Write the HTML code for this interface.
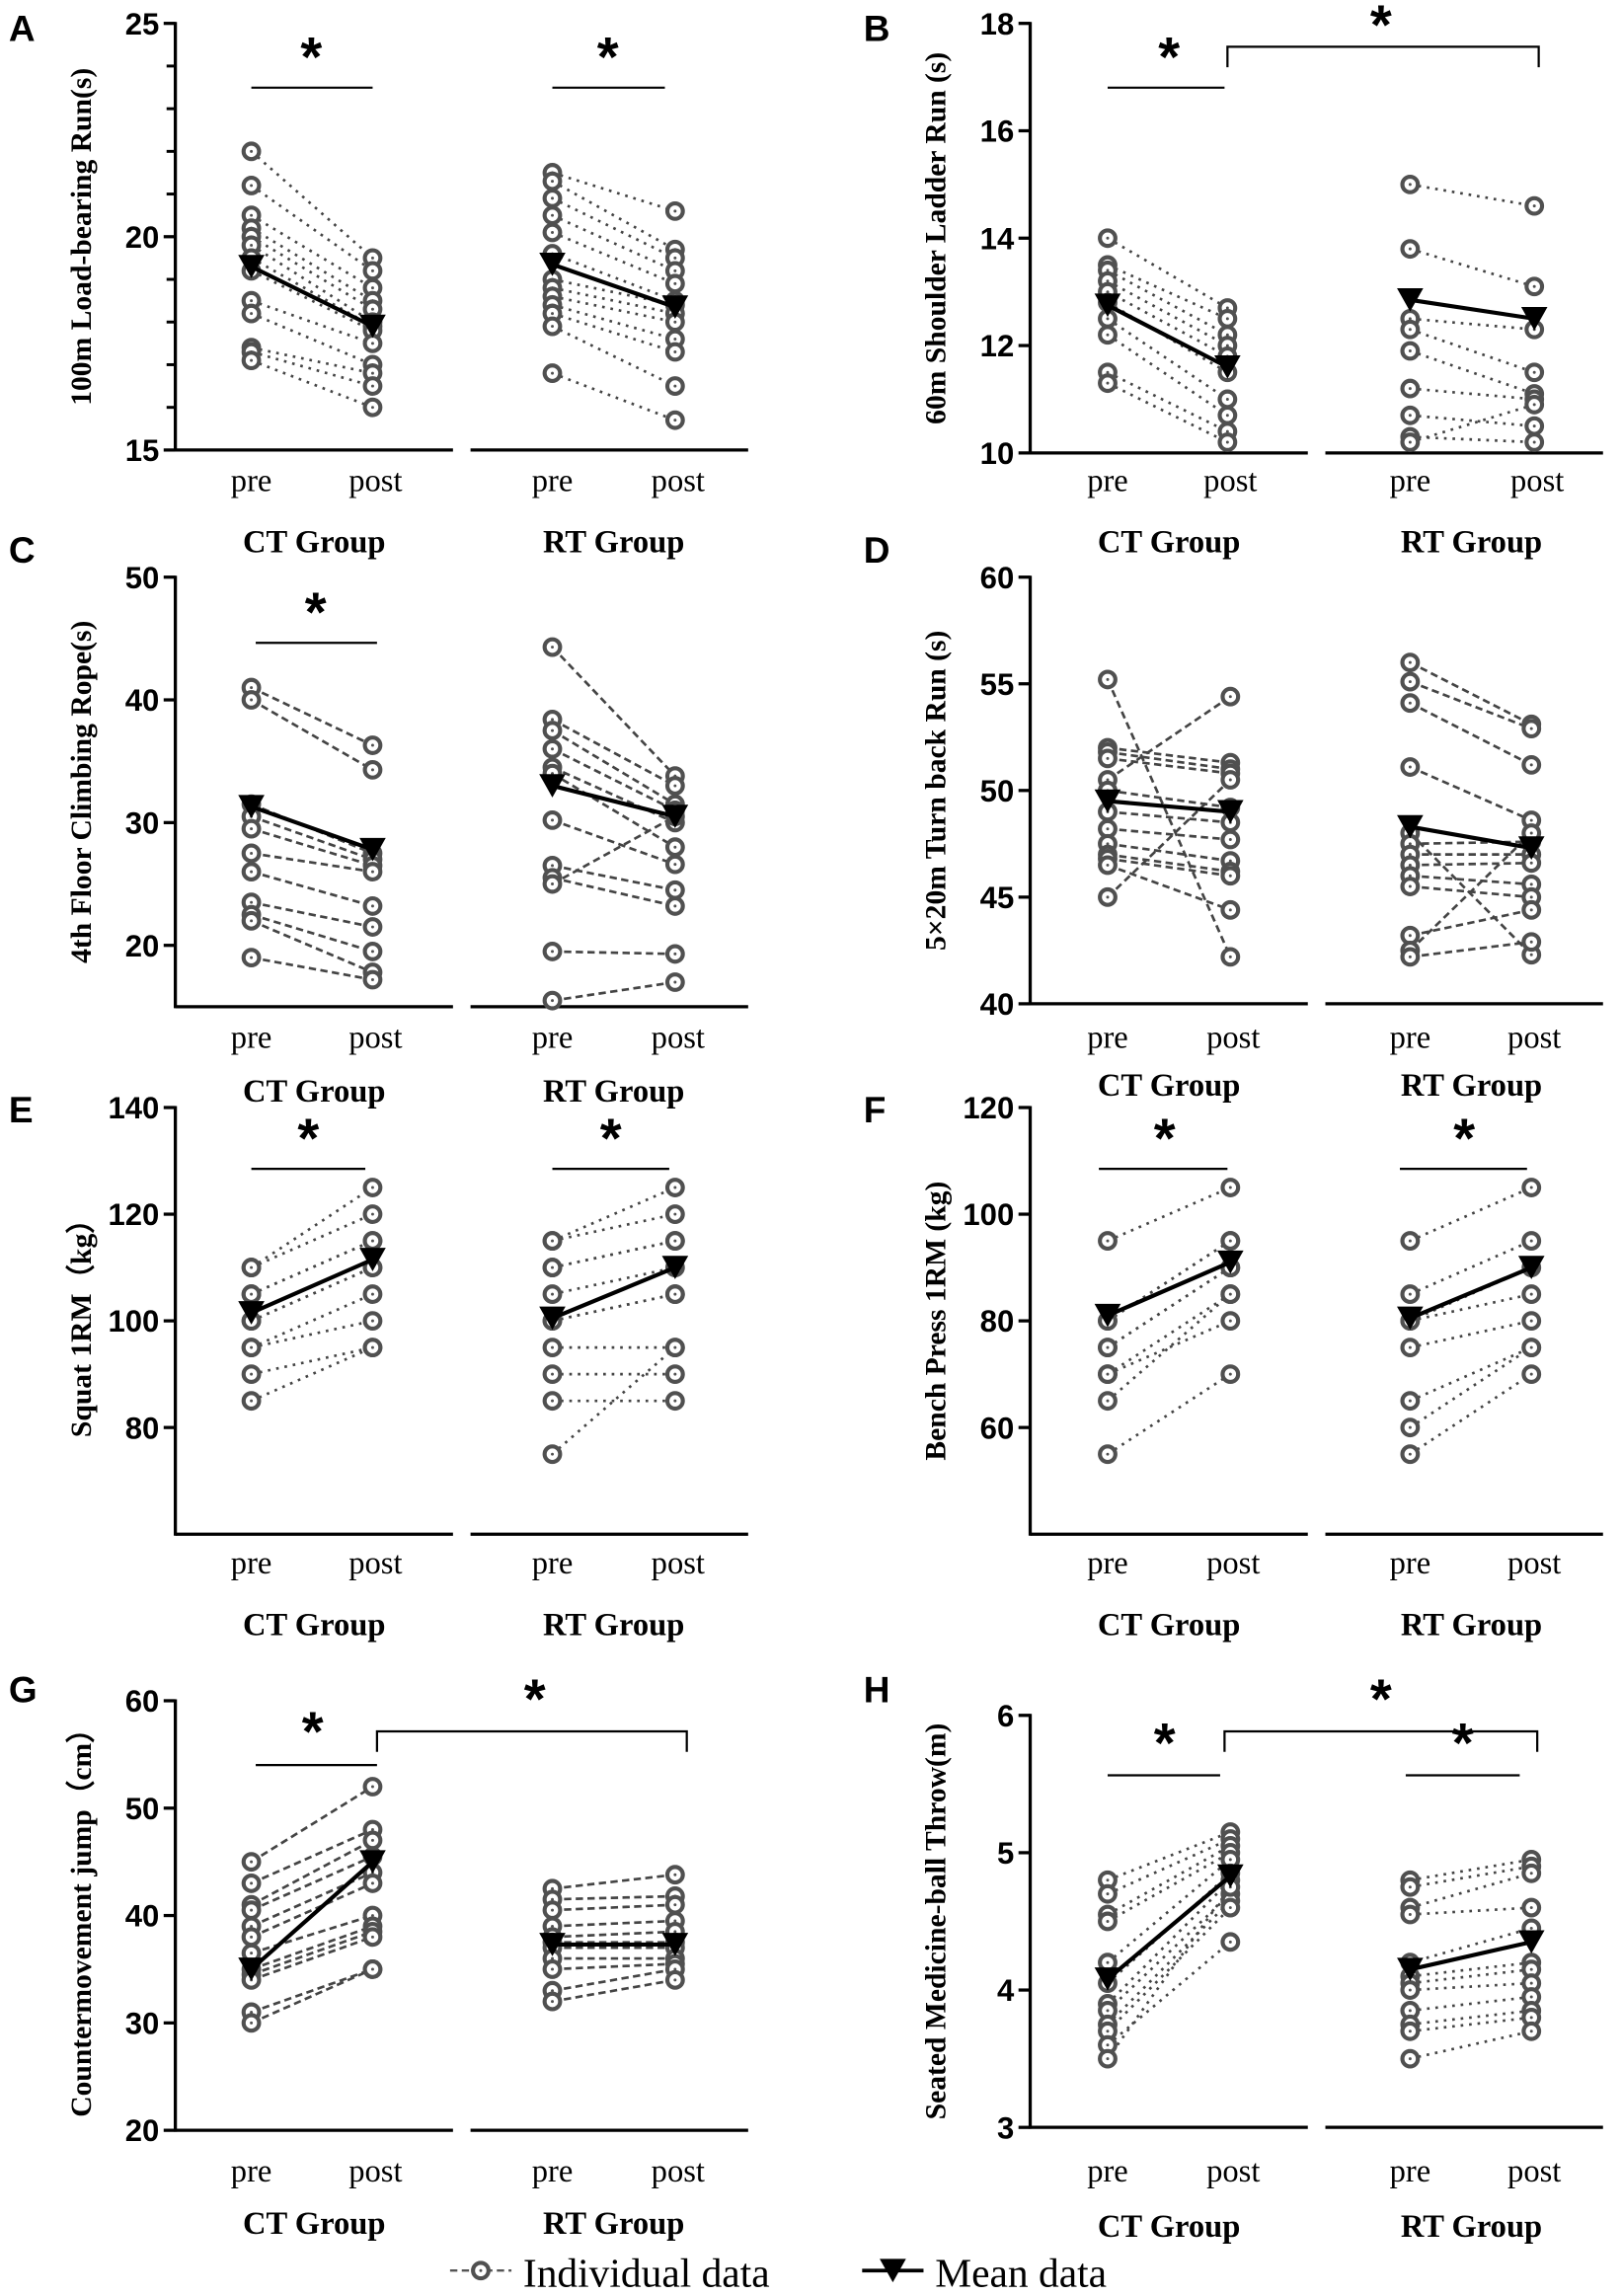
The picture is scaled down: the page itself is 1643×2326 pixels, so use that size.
<!DOCTYPE html>
<html><head><meta charset="utf-8"><style>
html,body{margin:0;padding:0;background:#fff}
svg{display:block}
.tk{font-family:"Liberation Sans",Arial,sans-serif;font-weight:bold;font-size:21px}
.yl{font-family:"Liberation Serif",serif;font-weight:bold;font-size:20px}
.pp{font-family:"Liberation Serif",serif;font-size:22px}
.gr{font-family:"Liberation Serif",serif;font-weight:bold;font-size:22px}
.pl{font-family:"Liberation Sans",Arial,sans-serif;font-weight:bold;font-size:25px}
.st{font-family:"Liberation Sans",Arial,sans-serif;font-weight:bold;font-size:38px}
.lg{font-family:"Liberation Serif",serif;font-size:28px}
</style></head><body>
<svg id="s" width="1643" height="2326" viewBox="0 0 1110 1571.4" preserveAspectRatio="none" xmlns="http://www.w3.org/2000/svg">
<g id="g"></g>
</svg>
<script>
const NS="http://www.w3.org/2000/svg",G=document.getElementById('g');
function el(t,a,txt){const e=document.createElementNS(NS,t);for(const k in a)e.setAttribute(k,a[k]);if(txt!=null)e.textContent=txt;G.appendChild(e);return e;}
function line(x1,y1,x2,y2,w,c,d){const a={x1,y1,x2,y2,stroke:c||'#000','stroke-width':w||2};if(d)a['stroke-dasharray']=d;el('line',a);}
function text(x,y,s,c,anchor,extra){const a={x,y,class:c,'text-anchor':anchor||'middle'};Object.assign(a,extra||{});el('text',a,s);}
function star(x,y){text(x,y+26,'*','st');}
function bar(x1,x2,y){line(x1,y,x2,y,1.5);}
function bracket(x1,x2,y){el('path',{d:`M${x1} ${y+14}V${y}H${x2}V${y+14}`,fill:'none',stroke:'#000','stroke-width':1.5});}

function panel(o){
 const {ax,top,bot,vmin,vmax,ticks,minor,xs,label,letter,ly,dash,data,means,ppY,grY,grX}=o;
 const Y=v=>bot-(v-vmin)/(vmax-vmin)*(bot-top);
 line(ax,top-1,ax,bot+1,2.2);
 ticks.forEach(t=>{line(ax-8,Y(t),ax,Y(t),2.2);text(ax-11,Y(t)+7.5,String(t),'tk','end');});
 (minor||[]).forEach(t=>line(ax-6,Y(t),ax,Y(t),2));
 line(ax,bot,ax+190,bot,2.2);line(ax+202,bot,ax+392,bot,2.2);
 text(ax-114,ly,letter,'pl','start');
 const lx=ax-58,lyc=(top+bot)/2;
 text(lx,lyc,label,'yl','middle',{transform:`rotate(-90 ${lx} ${lyc})`});
 [0,1].forEach(g=>{
  const [pre,post]=data[g],x1=xs[g*2],x2=xs[g*2+1];
  const n=Math.min(pre.length,post.length);
  for(let i=0;i<n;i++)line(x1,Y(pre[i]),x2,Y(post[i]),1.8,'#444',dash?'5 3':'1.8 4');
  pre.forEach(v=>circ(x1,Y(v)));post.forEach(v=>circ(x2,Y(v)));
  const m=means[g];line(x1,Y(m[0]),x2,Y(m[1]),2.8);
  tri(x1,Y(m[0]));tri(x2,Y(m[1]));
 });
 xs.forEach((x,i)=>text(x+(i%2?2:0),ppY,i%2?'post':'pre','pp'));
 text(grX[0],grY,'CT Group','gr');text(grX[1],grY,'RT Group','gr');
}
function circ(x,y){el('circle',{cx:x,cy:y,r:5.3,fill:'#fff',stroke:'#505050','stroke-width':2.8});el('circle',{cx:x,cy:y,r:1,fill:'#505050'});}
function tri(x,y){el('path',{d:`M${x-9} ${y-8}H${x+9}L${x} ${y+8}Z`,fill:'#000'});}

const L=120,R=705;
// A
panel({ax:L,top:16,bot:308,vmin:15,vmax:25,ticks:[15,20,25],minor:[16,17,18,19,21,22,23,24],xs:[172,255,378,462],label:'100m Load-bearing Run(s)',letter:'A',ly:28,dash:false,
 data:[[[22,21.2,20.5,20.2,20,19.8,19.5,19.2,18.5,18.2,17.4,17.3,17.1],[19.5,19.2,18.8,18.5,18.3,18,17.9,17.8,17.5,17,16.8,16.5,16]],
 [[21.5,21.3,20.9,20.5,20.1,19.6,19,18.8,18.6,18.4,18.2,17.9,16.8],[20.6,19.7,19.5,19.2,18.9,18.5,18.4,18.2,18,17.6,17.3,16.5,15.7]]],
 means:[[19.3,17.9],[19.35,18.35]],ppY:336,grY:378,grX:[215,420]});
bar(172,255,60);star(213,26);bar(378,455,60);star(416,26);
// B
panel({ax:R,top:16,bot:310,vmin:10,vmax:18,ticks:[10,12,14,16,18],xs:[758,840,965,1050],label:'60m Shoulder Ladder Run (s)',letter:'B',ly:28,dash:false,
 data:[[[14,13.5,13.4,13.2,13,12.8,12.5,12.2,11.5,11.3],[12.7,12.5,12.2,12,11.8,11.5,11,10.7,10.4,10.2]],
 [[15,13.8,12.5,12.3,11.9,11.2,10.7,10.3,10.2],[14.6,13.1,12.3,11.5,11.1,11,10.5,10.2,10.9]]],
 means:[[12.75,11.6],[12.85,12.5]],ppY:336,grY:378,grX:[800,1007]});
bar(758,838,60);star(800,26);bracket(840,1053,32);star(945,4);
// C
panel({ax:L,top:395,bot:689,vmin:15,vmax:50,ticks:[20,30,40,50],xs:[172,255,378,462],label:'4th Floor Climbing Rope(s)',letter:'C',ly:385,dash:true,
 data:[[[41,40,31.5,30.5,29.5,27.5,26,23.5,22.5,22,19],[36.3,34.3,27.5,27,26.5,26,23.2,21.5,19.5,17.8,17.2]],
 [[44.3,38.4,37.5,36,34.5,34,30.2,26.5,25.5,25,19.5,15.5],[33.8,33,31.5,31,30,28,26.6,24.5,23.2,30.5,19.3,17]]],
 means:[[31.3,27.8],[33,30.5]],ppY:717,grY:754,grX:[215,420]});
bar(175,258,440);star(216,406);
// D
panel({ax:R,top:395,bot:687,vmin:40,vmax:60,ticks:[40,45,50,55,60],xs:[758,842,965,1048],label:'5×20m Turn back Run (s)',letter:'D',ly:385,dash:true,
 data:[[[55.2,52,51.8,51.5,50.5,50,49,48.2,47.5,47,46.8,46.5,45],[42.2,51.3,51,50.8,54.4,49.2,48.5,47.7,46.7,46.2,46,44.4,50.5]],
 [[56,55.1,54.1,51.1,48,47.5,47,46.5,46,45.5,43.2,42.5,42.2],[53.1,52.9,51.2,48.6,42.3,47.6,47,46.6,45.6,45,44.4,48,42.9]]],
 means:[[49.5,49],[48.3,47.3]],ppY:717,grY:750,grX:[800,1007]});
// E
panel({ax:L,top:758,bot:1050,vmin:60,vmax:140,ticks:[80,100,120,140],xs:[172,255,378,462],label:'Squat 1RM（kg）',letter:'E',ly:768,dash:false,
 data:[[[110,110,105,105,100,100,95,95,90,85],[125,120,115,115,110,110,105,100,95,95]],
 [[115,115,110,110,105,100,100,95,90,85,75],[125,120,115,115,110,105,105,95,90,85,95]]],
 means:[[101.5,111.5],[100.5,110]],ppY:1077,grY:1119,grX:[215,420]});
bar(172,250,800);star(211,766);bar(378,458,800);star(418,766);
// F
panel({ax:R,top:758,bot:1050,vmin:40,vmax:120,ticks:[60,80,100,120],xs:[758,842,965,1048],label:'Bench Press 1RM (kg)',letter:'F',ly:768,dash:false,
 data:[[[95,80,80,75,75,70,70,65,55],[105,95,95,90,90,85,80,85,70]],
 [[95,85,80,80,75,65,60,55],[105,95,90,85,80,75,75,70]]],
 means:[[81,91],[80.5,90]],ppY:1077,grY:1119,grX:[800,1007]});
bar(752,840,800);star(797,766);bar(958,1045,800);star(1002,766);
// G
panel({ax:L,top:1164,bot:1458,vmin:20,vmax:60,ticks:[20,30,40,50,60],xs:[172,255,378,462],label:'Countermovement jump（cm）',letter:'G',ly:1165,dash:true,
 data:[[[45,43,41,40.5,39,38,36.5,35,34.5,34,31,30],[52,48,47,45.5,44,43,40,39,38.5,38,35,35]],
 [[42.5,41.5,40.5,39,38,37.5,37,36,35,33,32],[43.8,41.8,41,39.5,38.5,37.5,37,36,35.5,35,34]]],
 means:[[35,45],[37.3,37.3]],ppY:1493,grY:1529,grX:[215,420]});
bar(175,258,1208);star(214,1172);bracket(258,470,1185);star(366,1150);
// H
panel({ax:R,top:1174,bot:1456,vmin:3,vmax:6,ticks:[3,4,5,6],xs:[758,842,965,1048],label:'Seated Medicine-ball Throw(m)',letter:'H',ly:1165,dash:false,
 data:[[[4.8,4.7,4.55,4.5,4.2,4.05,3.9,3.85,3.75,3.7,3.6,3.5],[5.15,5.1,5.05,5,4.95,4.85,4.8,4.7,4.65,4.6,4.35,4.75]],
 [[4.8,4.75,4.6,4.55,4.2,4.1,4.05,4.0,3.85,3.75,3.7,3.5],[4.95,4.9,4.85,4.6,4.45,4.2,4.15,4.05,3.95,3.85,3.8,3.7]]],
 means:[[4.08,4.83],[4.15,4.35]],ppY:1493,grY:1531,grX:[800,1007]});
bar(758,835,1215);star(797,1180);bracket(838,1052,1185);star(945,1150);bar(962,1040,1215);star(1001,1180);
// legend
line(308,1554,350,1554,1.6,'#555','5 3');circ(329,1554);
text(358,1565,'Individual data','lg','start');
line(590,1554,632,1554,2.6);tri(611,1554);
text(640,1565,'Mean data','lg','start');
</script>
</body></html>
